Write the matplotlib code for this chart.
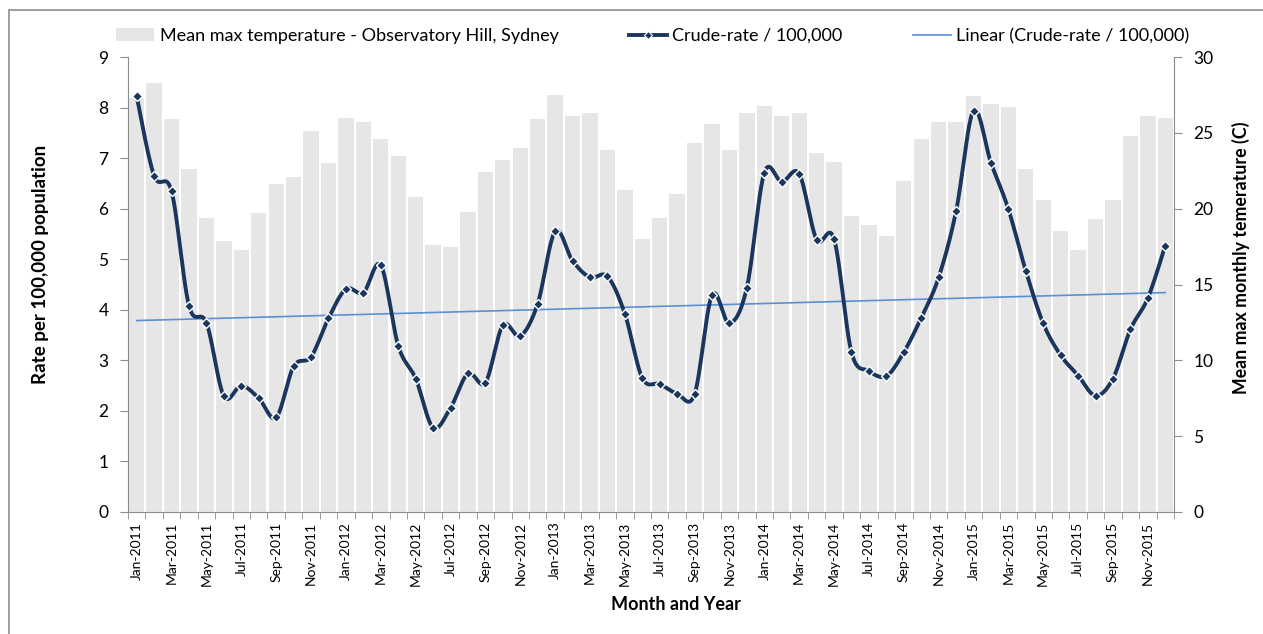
import numpy as np
import matplotlib
matplotlib.use("Agg")
import matplotlib.pyplot as plt
from matplotlib.patches import Patch, Rectangle
from matplotlib.lines import Line2D

plt.rcParams['font.family'] = ['Lato', 'DejaVu Sans']

months = ["Jan", "Feb", "Mar", "Apr", "May", "Jun", "Jul", "Aug", "Sep", "Oct", "Nov", "Dec"]
years = [2011, 2012, 2013, 2014, 2015]
labels = [f"{m}-{y}" for y in years for m in months]

crude_rate = [8.22, 6.65, 6.34, 4.08, 3.74, 2.29, 2.50, 2.25, 1.87, 2.88, 3.07, 3.83,
              4.41, 4.34, 4.88, 3.29, 2.64, 1.67, 2.06, 2.74, 2.56, 3.69, 3.48, 4.12,
              5.55, 4.97, 4.64, 4.66, 3.92, 2.65, 2.53, 2.34, 2.33, 4.29, 3.73, 4.44,
              6.71, 6.53, 6.69, 5.39, 5.40, 3.16, 2.79, 2.69, 3.16, 3.84, 4.64, 5.95,
              7.94, 6.91, 5.99, 4.77, 3.73, 3.10, 2.70, 2.30, 2.64, 3.61, 4.23, 5.27]

mean_max_temp = [27.3, 28.3, 25.9, 22.6, 19.4, 17.9, 17.3, 19.7, 21.6, 22.1, 25.1, 23.0,
                 26.0, 25.7, 24.6, 23.5, 20.8, 17.6, 17.5, 19.8, 22.4, 23.2, 24.0, 25.9,
                 27.5, 26.1, 26.3, 23.9, 21.2, 18.0, 19.4, 21.0, 24.3, 25.6, 23.9, 26.3,
                 26.8, 26.1, 26.3, 23.7, 23.1, 19.5, 18.9, 18.2, 21.8, 24.6, 25.7, 25.7,
                 27.4, 26.9, 26.7, 22.6, 20.6, 18.5, 17.3, 19.3, 20.6, 24.8, 26.1, 26.0]

NAVY = "#1b365d"
TREND = "#5b8fd6"
BAR = "#e6e6e6"
AXC = "#8c8c8c"

x = np.arange(len(labels))
y = np.array(crude_rate, dtype=float)


def catmull_rom(xs, ys, n=24):
    px, py = [], []
    xs = np.asarray(xs, float); ys = np.asarray(ys, float)
    N = len(xs)
    for i in range(N - 1):
        p0 = (xs[max(i - 1, 0)], ys[max(i - 1, 0)])
        p1 = (xs[i], ys[i])
        p2 = (xs[i + 1], ys[i + 1])
        p3 = (xs[min(i + 2, N - 1)], ys[min(i + 2, N - 1)])
        c1 = (p1[0] + (p2[0] - p0[0]) / 6, p1[1] + (p2[1] - p0[1]) / 6)
        c2 = (p2[0] - (p3[0] - p1[0]) / 6, p2[1] - (p3[1] - p1[1]) / 6)
        t = np.linspace(0, 1, n, endpoint=(i == N - 2))
        b0 = (1 - t) ** 3; b1 = 3 * (1 - t) ** 2 * t; b2 = 3 * (1 - t) * t ** 2; b3 = t ** 3
        px.extend(b0 * p1[0] + b1 * c1[0] + b2 * c2[0] + b3 * p2[0])
        py.extend(b0 * p1[1] + b1 * c1[1] + b2 * c2[1] + b3 * p2[1])
    return np.array(px), np.array(py)


W, H = 1263, 634
fig = plt.figure(figsize=(W / 100, H / 100), dpi=100)
L, R, B, T = 128 / W, 1174 / W, (H - 512) / H, (H - 57) / H
ax = fig.add_axes([L, B, R - L, T - B])
ax2 = ax.twinx()

# bars on secondary axis (behind)
ax2.bar(x, mean_max_temp, width=0.88, color=BAR, edgecolor='none', zorder=1)
ax2.set_ylim(0, 30)
ax2.set_yticks(np.arange(0, 31, 5))

ax.set_zorder(ax2.get_zorder() + 1)
ax.patch.set_visible(False)

# smoothed line + markers
sx, sy = catmull_rom(x, y)
ax.plot(sx, sy, color=NAVY, lw=2.8, solid_capstyle='round', zorder=3)
ax.plot(x, y, linestyle='none', marker='D', markersize=5.5, markerfacecolor=NAVY,
        markeredgecolor='white', markeredgewidth=1.0, zorder=4)

# linear trend
coef = np.polyfit(x, y, 1)
ax.plot(x, np.polyval(coef, x), color=TREND, lw=1.2, zorder=2)

ax.set_xlim(-0.5, len(labels) - 0.5)
ax.set_ylim(0, 9)
ax.set_yticks(np.arange(0, 10, 1))

ax.set_xticks(x[::2])
ax.set_xticklabels(labels[::2], rotation=90, fontsize=10)
ax.set_xticks(np.arange(-0.5, len(labels), 1), minor=True)
ax.tick_params(axis='x', which='major', length=0, pad=7)
ax.tick_params(axis='x', which='minor', length=5, color=AXC, direction='out')
ax.tick_params(axis='y', labelsize=12.5, length=6, color=AXC, pad=8)
ax2.tick_params(axis='y', labelsize=12.5, length=6, color=AXC, pad=8)

for a in (ax, ax2):
    a.spines['top'].set_visible(False)
    for s in ('left', 'right', 'bottom'):
        a.spines[s].set_color(AXC)
ax.spines['right'].set_visible(False)
ax2.spines['left'].set_visible(False)
ax2.spines['bottom'].set_visible(False)

# axis titles
fig.text(41 / W, 1 - 264 / H, "Rate per 100,000 population", rotation=90, ha='center',
         va='center', fontsize=13.5, fontweight='bold')
fig.text(1241 / W, 1 - 258 / H, "Mean max monthly temerature (C)", rotation=90, ha='center',
         va='center', fontsize=12.8, fontweight='bold')
fig.text(676 / W, 1 - 605 / H, "Month and Year", ha='center', va='center',
         fontsize=13, fontweight='bold')

handles = [Patch(facecolor=BAR, edgecolor='none'),
           Line2D([], [], color=NAVY, lw=2.8, marker='D', markersize=4.5,
                  markerfacecolor=NAVY, markeredgecolor='white', markeredgewidth=0.8),
           Line2D([], [], color=TREND, lw=1.2)]
names = ["Mean max temperature - Observatory Hill, Sydney", "Crude-rate / 100,000",
         "Linear (Crude-rate / 100,000)"]
fig.legend(handles, names, loc='center', bbox_to_anchor=(0.517, 1 - 36 / H), ncol=3,
           frameon=False, fontsize=13, handlelength=2.1, handletextpad=0.3,
           columnspacing=3.9, handleheight=0.75)

# outer chart frame (partly outside the picture)
fig.patches.append(Rectangle((9 / W, -0.2), 1.5, 1.2 - 10 / H, transform=fig.transFigure,
                             fill=False, edgecolor=AXC, lw=1.2))

fig.savefig("out.png", dpi=100)
